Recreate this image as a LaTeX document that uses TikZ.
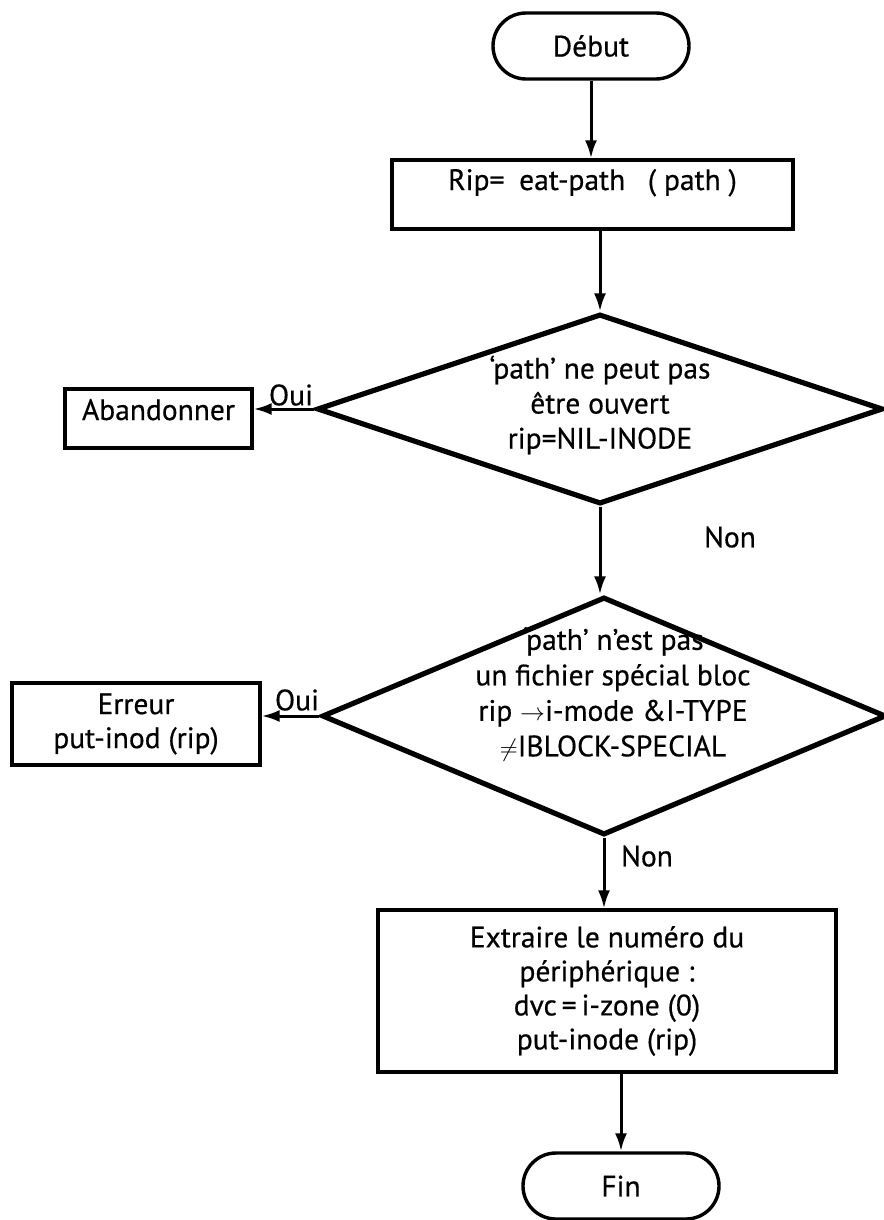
\documentclass[tikz,border=0pt]{standalone}
\usepackage{fontspec}
\setmainfont{PT Sans}[FakeBold=0.5]
\usetikzlibrary{shapes.geometric,arrows.meta}

\begin{document}
\begin{tikzpicture}[x=1pt,y=-1pt,
  every node/.style={font=\fontsize{29.5}{35}\selectfont, inner sep=0pt},
  term/.style={draw, line width=3.4pt, rounded corners=33pt,
               minimum width=196pt, minimum height=66pt},
  proc/.style={draw, line width=3.2pt, align=center},
  cond/.style={draw, diamond, line width=5.2pt},
  arr/.style={line width=3pt, -{Latex[length=18pt,width=12pt]}},
  lbl/.style={align=center}
]
% page
\fill[white] (0,0) rectangle (883,1220);
\useasboundingbox (0,0) rectangle (883,1220);

% start / end
\node[term] (debut) at (591,46) {Début};
\node[term] (fin) at (621,1186) {Fin};

% first step
\node[proc, minimum width=401pt, minimum height=69pt,
      text height=20pt, text depth=29pt] (rip) at (592.5,194.5)
  {Rip=\enspace eat-path\enspace\ ( path )};

% first test
\node[cond, minimum width=566pt, minimum height=190pt] (d1) at (600,409) {};
\node[lbl] (t1) at (600,405)
  {‘path’ ne peut pas\\être ouvert\\rip=NIL-INODE};
\node[proc, minimum width=187pt, minimum height=59pt,
      text height=20pt, text depth=17pt] (aband) at (158.5,418.5) {Abandonner};
\node (oui1) at (291,395) {Oui};
\node (non1) at (730,537) {Non};

% second test
\node[cond, minimum width=564pt, minimum height=238pt] (d2) at (604,716) {};
\node[lbl, font=\fontsize{29.5}{35.5}\selectfont] (t2) at (613,694)
  {‘path’ n’est pas\\un fichier spécial bloc\\rip $\rightarrow$i-mode \&I-TYPE\\$\neq$IBLOCK-SPECIAL};
\node[proc, minimum width=248pt, minimum height=82pt,
      font=\fontsize{29.5}{34}\selectfont] (err) at (136,724)
  {Erreur\\put-inod (rip)};
\node (oui2) at (297,700) {Oui};
\node (non2) at (647,856) {Non};

% last step
\node[proc, minimum width=458pt, minimum height=162pt,
      font=\fontsize{29.5}{34}\selectfont] (extr) at (607,991)
  {Extraire le numéro du\\périphérique :\\dvc\,=\,i-zone (0)\\put-inode (rip)};

% connectors
\draw[arr] (debut.south) -- (debut.south |- rip.north);
\draw[arr] (d1.north |- rip.south) -- (d1.north);
\draw[arr] (d1.west) -- (d1.west -| aband.east);
\draw[arr] (d1.south) -- (d1.south |- d2.north);
\draw[arr] (d2.west) -- (d2.west -| err.east);
\draw[arr] (d2.south) -- (d2.south |- extr.north);
\draw[arr] (fin.north |- extr.south) -- (fin.north);
\end{tikzpicture}
\end{document}
